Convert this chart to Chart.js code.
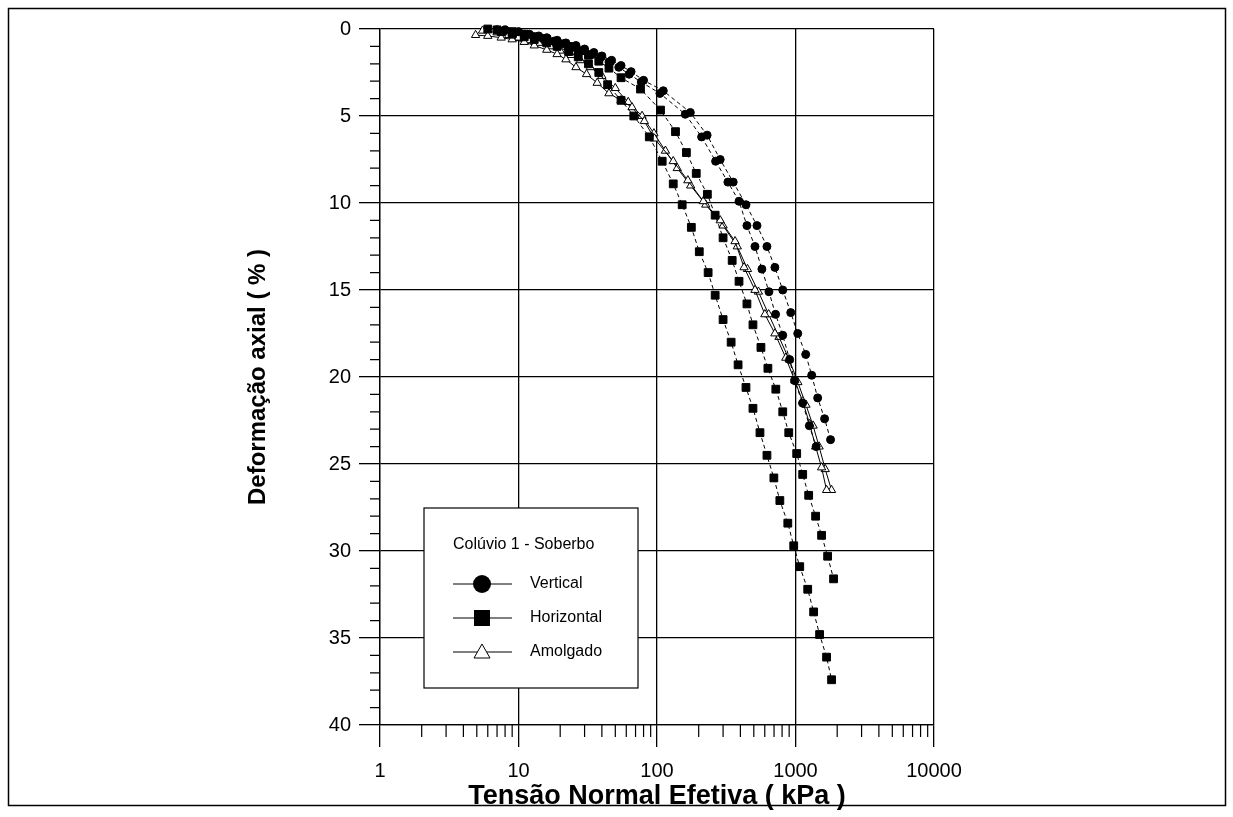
<!DOCTYPE html>
<html>
<head>
<meta charset="utf-8">
<script src="https://cdn.jsdelivr.net/npm/chart.js@4.4.1/dist/chart.umd.min.js"></script>
<style>
  html, body { margin: 0; padding: 0; background: #fff; }
  canvas { display: block; }
</style>
</head>
<body>
<canvas id="compressChart" width="1233" height="817"></canvas>
<script>
// Ensaio edometrico - Coluvio 1 - Soberbo
const xTicks = [1, 10, 100, 1000, 10000];
const yTicks = [0, 5, 10, 15, 20, 25, 30, 35, 40];

const vert1Stress = [8, 10, 12, 14, 16, 19, 22, 26, 30, 35, 40, 47, 55, 65, 80, 111, 174, 230, 286, 355, 439, 527, 622, 710, 809, 924, 1038, 1185, 1309, 1446, 1622, 1791];
const vert1Strain = [0.05, 0.15, 0.3, 0.4, 0.5, 0.65, 0.8, 0.95, 1.15, 1.35, 1.55, 1.8, 2.1, 2.45, 2.95, 3.55, 4.8, 6.1, 7.5, 8.8, 10.1, 11.3, 12.5, 13.7, 15.0, 16.3, 17.5, 18.7, 19.9, 21.2, 22.4, 23.6];

const vert2Stress = [7, 9, 11, 13, 15, 18, 21, 25, 29, 34, 39, 45, 53, 63, 77, 105, 160, 210, 265, 325, 391, 446, 510, 572, 643, 718, 809, 907, 984, 1125, 1259, 1409];
const vert2Strain = [0.05, 0.2, 0.3, 0.45, 0.55, 0.7, 0.85, 1.05, 1.25, 1.45, 1.65, 1.9, 2.2, 2.6, 3.05, 3.7, 4.9, 6.2, 7.6, 8.8, 9.9, 11.3, 12.5, 13.8, 15.1, 16.4, 17.6, 19.0, 20.2, 21.5, 22.8, 24.0];

const hor1Stress = [6, 7.5, 9, 11, 13, 16, 19, 23, 27, 32, 38, 44, 55, 68, 88, 109, 131, 152, 177, 202, 234, 263, 300, 343, 385, 439, 493, 554, 622, 698, 771, 880, 971, 1073, 1225, 1352, 1493, 1676, 1822];
const hor1Strain = [0.0, 0.15, 0.3, 0.45, 0.6, 0.8, 1.0, 1.3, 1.6, 2.0, 2.5, 3.2, 4.1, 5.0, 6.2, 7.6, 8.9, 10.1, 11.4, 12.8, 14.0, 15.3, 16.7, 18.0, 19.3, 20.6, 21.8, 23.2, 24.5, 25.8, 27.1, 28.4, 29.7, 30.9, 32.2, 33.5, 34.8, 36.1, 37.4];

const hor2Stress = [7, 9, 11, 13, 16, 19, 23, 27, 32, 38, 45, 55, 76, 106, 136, 163, 192, 231, 263, 300, 349, 391, 446, 493, 563, 632, 721, 809, 894, 1020, 1127, 1245, 1397, 1543, 1706, 1883];
const hor2Strain = [0.05, 0.15, 0.3, 0.45, 0.6, 0.8, 1.0, 1.25, 1.5, 1.85, 2.25, 2.8, 3.45, 4.66, 5.9, 7.1, 8.3, 9.5, 10.7, 12.0, 13.3, 14.5, 15.8, 17.0, 18.3, 19.5, 20.7, 22.0, 23.2, 24.4, 25.6, 26.8, 28.0, 29.1, 30.3, 31.6];

const amo1Stress = [4.9, 6, 7.5, 9, 11, 13, 16, 19, 22, 26, 31, 37, 45, 55, 66, 81, 96, 131, 167, 216, 286, 366, 425, 510, 601, 710, 851, 988, 1127, 1265, 1397, 1543, 1676];
const amo1Strain = [0.35, 0.4, 0.5, 0.6, 0.75, 0.95, 1.2, 1.45, 1.75, 2.2, 2.6, 3.1, 3.7, 4.1, 4.5, 5.3, 6.3, 7.6, 8.7, 9.9, 11.0, 12.2, 13.7, 15.0, 16.4, 17.5, 18.9, 20.2, 21.4, 22.7, 24.0, 25.2, 26.5];

const amo2Stress = [5.5, 7, 8.5, 10, 12, 14, 17, 20, 24, 28, 33, 40, 50, 62, 78, 95, 115, 140, 175, 225, 300, 380, 450, 540, 640, 760, 900, 1040, 1190, 1340, 1480, 1640, 1820];
const amo2Strain = [0.1, 0.2, 0.35, 0.5, 0.65, 0.8, 1.0, 1.25, 1.5, 1.8, 2.2, 2.7, 3.4, 4.2, 5.0, 6.0, 7.0, 8.0, 9.0, 10.1, 11.3, 12.5, 13.8, 15.1, 16.4, 17.7, 19.0, 20.3, 21.6, 22.8, 24.0, 25.3, 26.5];

const legendTitle = 'Colúvio 1 - Soberbo';
const legendLabels = ['Vertical', 'Horizontal', 'Amolgado'];

const FONT = "'Liberation Sans', Arial, sans-serif";

function toPoints(xs, ys) {
    return xs.map((v, i) => ({ x: v, y: ys[i] }));
}

function series(xs, ys, style) {
    const base = {
        data: toPoints(xs, ys),
        showLine: true,
        borderColor: '#000',
        borderWidth: 1,
        pointBorderColor: '#000',
        pointBorderWidth: 1,
        clip: false
    };
    if (style === 'circle') {
        return Object.assign(base, { pointStyle: 'circle', pointRadius: 4, pointBackgroundColor: '#000', borderDash: [4, 3] });
    }
    if (style === 'rect') {
        return Object.assign(base, { pointStyle: 'rect', pointRadius: 5.5, pointBackgroundColor: '#000', borderDash: [4, 3] });
    }
    return Object.assign(base, { pointStyle: 'triangle', pointRadius: 4.8, pointBackgroundColor: '#fff' });
}

// outer frame, minor ticks and the boxed legend
const decorPlugin = {
    id: 'decor',
    beforeDraw(chart) {
        const c = chart.ctx;
        c.save();
        c.fillStyle = '#fff';
        c.fillRect(0, 0, chart.width, chart.height);
        c.restore();
    },
    afterDraw(chart) {
        const c = chart.ctx;
        const xs = chart.scales.x, ys = chart.scales.y;
        const area = chart.chartArea;
        c.save();
        c.strokeStyle = '#000';
        c.lineWidth = 1.2;

        // minor ticks on the log axis (pointing down)
        c.beginPath();
        for (let d = 1; d < 10000; d *= 10) {
            for (let k = 2; k <= 9; k++) {
                const px = xs.getPixelForValue(d * k);
                c.moveTo(px, area.bottom);
                c.lineTo(px, area.bottom + 12);
            }
        }
        // minor ticks on the strain axis (pointing left)
        for (let v = 1; v < 40; v++) {
            if (v % 5 === 0) continue;
            const py = ys.getPixelForValue(v);
            c.moveTo(area.left - 10, py);
            c.lineTo(area.left, py);
        }
        c.stroke();

        // outer frame
        c.lineWidth = 1.5;
        c.strokeRect(8.5, 8.5, 1217, 797);

        // legend
        const box = { left: 424, top: 508, right: 638, bottom: 688 };
        c.fillStyle = '#fff';
        c.fillRect(box.left, box.top, box.right - box.left, box.bottom - box.top);
        c.lineWidth = 1.2;
        c.strokeRect(box.left, box.top, box.right - box.left, box.bottom - box.top);

        c.fillStyle = '#000';
        c.font = '16px ' + FONT;
        c.textBaseline = 'middle';
        c.textAlign = 'left';
        c.fillText(legendTitle, 453, 545);

        const rows = [584, 618, 652];
        const styles = ['circle', 'rect', 'triangle'];
        legendLabels.forEach((label, i) => {
            const y = rows[i];
            c.beginPath();
            c.lineWidth = 1;
            c.moveTo(453, y);
            c.lineTo(512, y);
            c.stroke();
            const mx = 482;
            if (styles[i] === 'circle') {
                c.beginPath();
                c.arc(mx, y, 9, 0, Math.PI * 2);
                c.fill();
            } else if (styles[i] === 'rect') {
                c.fillRect(mx - 8, y - 8, 16, 16);
            } else {
                c.beginPath();
                c.moveTo(mx, y - 8);
                c.lineTo(mx + 8, y + 6);
                c.lineTo(mx - 8, y + 6);
                c.closePath();
                c.fillStyle = '#fff';
                c.fill();
                c.stroke();
                c.fillStyle = '#000';
            }
            c.fillText(label, 530, y);
        });
        c.restore();
    }
};

document.addEventListener("DOMContentLoaded", function () {
    const ctx = document.getElementById('compressChart').getContext('2d');
    const compressChart = new Chart(ctx, {
        type: 'scatter',
        data: {
            datasets: [
                Object.assign(series(vert1Stress, vert1Strain, 'circle'), { label: 'Vertical' }),
                Object.assign(series(vert2Stress, vert2Strain, 'circle'), { label: 'Vertical' }),
                Object.assign(series(hor1Stress, hor1Strain, 'rect'), { label: 'Horizontal' }),
                Object.assign(series(hor2Stress, hor2Strain, 'rect'), { label: 'Horizontal' }),
                Object.assign(series(amo1Stress, amo1Strain, 'triangle'), { label: 'Amolgado' }),
                Object.assign(series(amo2Stress, amo2Strain, 'triangle'), { label: 'Amolgado' })
            ]
        },
        options: {
            responsive: false,
            animation: false,
            devicePixelRatio: 1,
            layout: {
                padding: { left: 244, right: 299, top: 29, bottom: 4 }
            },
            scales: {
                x: {
                    type: 'logarithmic',
                    min: 1,
                    max: 10000,
                    afterBuildTicks: function (scale) {
                        scale.ticks = xTicks.map(v => ({ value: v }));
                    },
                    afterFit: function (scale) { scale.height = 88; },
                    ticks: {
                        autoSkip: false,
                        maxRotation: 0,
                        padding: 12,
                        color: '#000',
                        font: { family: FONT, size: 20 },
                        callback: v => String(v)
                    },
                    grid: { color: '#000', lineWidth: 1.3, tickLength: 22 },
                    border: { color: '#000', width: 1.3 },
                    title: {
                        display: true,
                        text: 'Tensão Normal Efetiva ( kPa )',
                        color: '#000',
                        padding: 0,
                        font: { family: FONT, size: 27, weight: 'bold' }
                    }
                },
                y: {
                    reverse: true,
                    min: 0,
                    max: 40,
                    afterBuildTicks: function (scale) {
                        scale.ticks = yTicks.map(v => ({ value: v }));
                    },
                    afterFit: function (scale) { scale.width = 380 - 244; },
                    ticks: {
                        padding: 8,
                        color: '#000',
                        font: { family: FONT, size: 20 }
                    },
                    grid: { color: '#000', lineWidth: 1.3, tickLength: 21 },
                    border: { color: '#000', width: 1.3 },
                    title: {
                        display: true,
                        text: 'Deformação axial ( % )',
                        color: '#000',
                        padding: 0,
                        font: { family: FONT, size: 24, weight: 'bold' }
                    }
                }
            },
            plugins: {
                legend: { display: false },
                tooltip: { enabled: false }
            }
        },
        plugins: [decorPlugin]
    });
});
</script>
</body>
</html>
